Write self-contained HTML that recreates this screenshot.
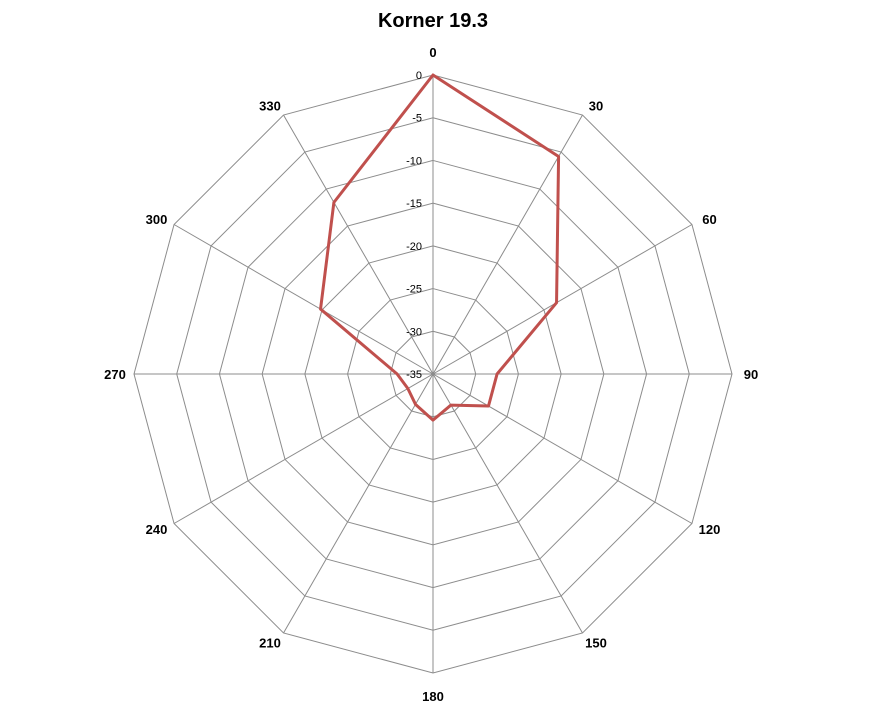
<!DOCTYPE html>
<html><head><meta charset="utf-8"><style>
body{margin:0;background:#fff;}
svg text{font-family:"Liberation Sans",Calibri,sans-serif;}
</style></head><body>
<svg width="880" height="715" xmlns="http://www.w3.org/2000/svg">
<text x="433" y="27" text-anchor="middle" font-size="20" font-weight="bold">Korner 19.3</text>
<g id="grid"></g>
<g id="labels"></g>
<g id="series"></g>
</svg>
<script>
const angles = [0,30,60,90,120,150,180,210,240,270,300,330];
const values = [0,-5.6,-18.3,-27.5,-27.5,-30.8,-29.6,-30.9,-31.6,-30.8,-19.8,-11.8];
const ringTicks = [0,-5,-10,-15,-20,-25,-30,-35];
const axisLabels = ["0","30","60","90","120","150","180","210","240","270","300","330"];
const vMin=-35, vMax=0;
const cx=433, cy=374, R=299;
const NS="http://www.w3.org/2000/svg";
function rr(v){return (v-vMin)/(vMax-vMin)*R;}
function pt(a,r){const t=a*Math.PI/180;return [cx+r*Math.sin(t), cy-r*Math.cos(t)];}
function mk(tag,attrs,parent){const e=document.createElementNS(NS,tag);for(const k in attrs)e.setAttribute(k,attrs[k]);parent.appendChild(e);return e;}
const grid=document.getElementById('grid'), labels=document.getElementById('labels'), series=document.getElementById('series');
ringTicks.forEach(v=>{
  if(v===vMin) return;
  const p=angles.map(a=>pt(a,rr(v)).join(',')).join(' ');
  const e=mk('polygon',{points:p,fill:'none',stroke:'#8c8c8c','stroke-width':1},grid);
  
  
});
angles.forEach(a=>{
  const [x,y]=pt(a,R);
  const e=mk('line',{x1:cx,y1:cy,x2:x,y2:y,stroke:'#8c8c8c','stroke-width':1},grid);
  
  
});
ringTicks.forEach(v=>{
  const y=cy-rr(v);
  const t=mk('text',{x:cx-11,y:y+4,'text-anchor':'end','font-size':11},labels);
  t.textContent=String(v);
  
  
});
axisLabels.forEach((s,i)=>{
  const t0=i*30*Math.PI/180, sn=Math.sin(t0), cs=Math.cos(t0);
  const sx=Math.abs(sn)<0.1?0:Math.sign(sn), sy=Math.abs(sn)<0.1?Math.sign(cs):0;
  const x=cx+310*sn+8*sx, y=cy-(310*cs+12*sy);
  const t=mk('text',{x:x,y:y+5,'text-anchor':'middle','font-size':13,'font-weight':'bold'},labels);
  t.textContent=s;
  
  
});
const pts=angles.map((a,i)=>pt(a,rr(values[i])).join(',')).join(' ');
const line=mk('polygon',{points:pts,fill:'none',stroke:'#c0504d','stroke-width':3,'stroke-linejoin':'round'},series);


</script>
</body></html>
